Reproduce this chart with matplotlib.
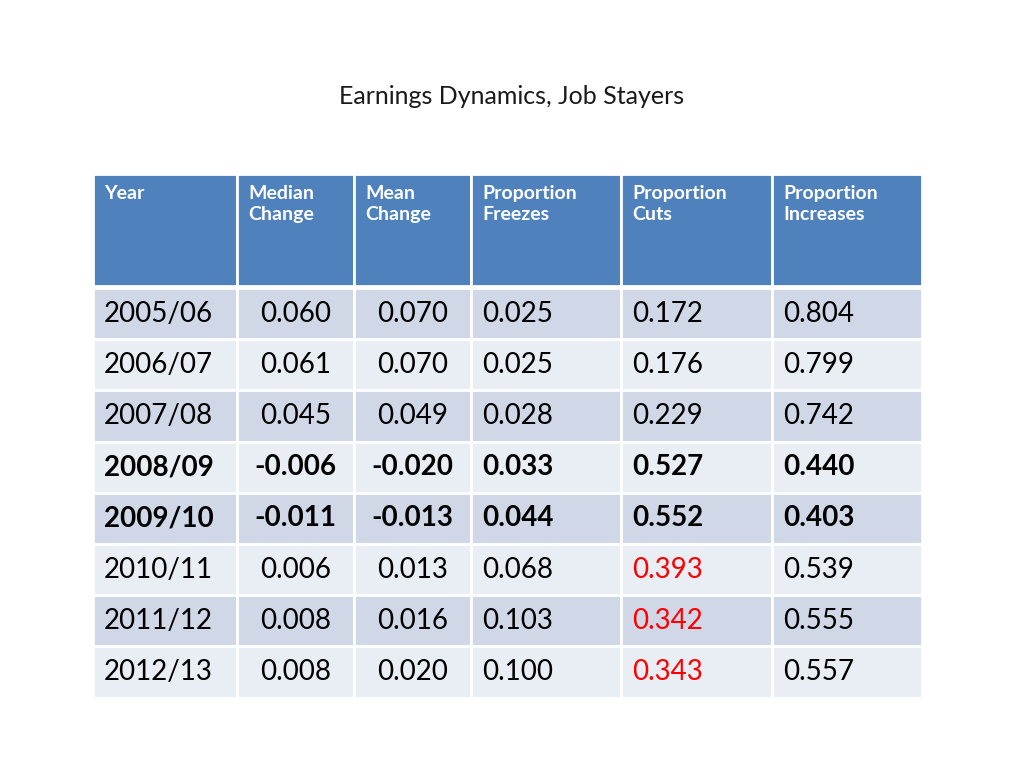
import matplotlib
matplotlib.use("Agg")
import matplotlib.pyplot as plt
from matplotlib.patches import Rectangle

title = "Earnings Dynamics, Job Stayers"
headers = ["Year", "Median\nChange", "Mean\nChange", "Proportion\nFreezes", "Proportion\nCuts", "Proportion\nIncreases"]
years = ["2005/06", "2006/07", "2007/08", "2008/09", "2009/10", "2010/11", "2011/12", "2012/13"]
median_change = ["0.060", "0.061", "0.045", "-0.006", "-0.011", "0.006", "0.008", "0.008"]
mean_change = ["0.070", "0.070", "0.049", "-0.020", "-0.013", "0.013", "0.016", "0.020"]
prop_freezes = ["0.025", "0.025", "0.028", "0.033", "0.044", "0.068", "0.103", "0.100"]
prop_cuts = ["0.172", "0.176", "0.229", "0.527", "0.552", "0.393", "0.342", "0.343"]
prop_increases = ["0.804", "0.799", "0.742", "0.440", "0.403", "0.539", "0.555", "0.557"]
bold_rows = ["2008/09", "2009/10"]
red_cuts_rows = ["2010/11", "2011/12", "2012/13"]

col_edges = [93, 237, 354, 471, 621, 772, 922]
header_top, header_bottom = 174, 286
row_h = 51.2
centered_cols = [1, 2]

fig = plt.figure(figsize=(10.24, 7.68), dpi=100, facecolor="white")
ax = fig.add_axes([0, 0, 1, 1])
ax.set_xlim(0, 1024)
ax.set_ylim(768, 0)
ax.axis("off")

font = "Lato"
ax.text(512, 97, title, ha="center", va="center", fontsize=18, family=font, color="#1a1a1a")

# header
for c in range(6):
    x0, x1 = col_edges[c], col_edges[c + 1]
    ax.add_patch(Rectangle((x0, header_top), x1 - x0, header_bottom - header_top,
                           facecolor="#4F81BD", edgecolor="white", lw=2))
    ax.text(x0 + 11, 185, headers[c], ha="left", va="top", fontsize=14, family=font,
            color="white", fontweight="bold", linespacing=1.3)

columns = [years, median_change, mean_change, prop_freezes, prop_cuts, prop_increases]
top = header_bottom + 2
for r in range(len(years)):
    y0 = top + r * row_h
    fc = "#D0D8E8" if r % 2 == 0 else "#E9EDF4"
    bold = years[r] in bold_rows
    for c in range(6):
        x0, x1 = col_edges[c], col_edges[c + 1]
        ax.add_patch(Rectangle((x0, y0), x1 - x0, row_h, facecolor=fc, edgecolor="white", lw=2))
        color = "#FF0000" if (c == 4 and years[r] in red_cuts_rows) else "black"
        if c in centered_cols:
            x, ha = (x0 + x1) / 2, "center"
        else:
            x, ha = x0 + 11, "left"
        ax.text(x, y0 + row_h / 2, columns[c][r], ha=ha, va="center", fontsize=20, family=font,
                color=color, fontweight="bold" if bold else "normal")

fig.savefig("out.png", dpi=100, facecolor="white")
